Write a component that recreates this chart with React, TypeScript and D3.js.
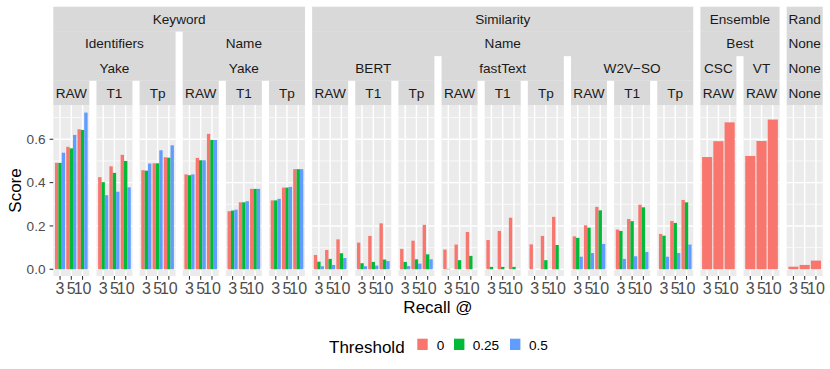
import * as d3 from 'd3';
import React from 'react';

// x categories (Recall @) and fill groups (Threshold)
const recallAt = ['3', '5', '10'];
const thresholds = ['0', '0.25', '0.5'];
const thresholdColors = ['#F8766D', '#00BA38', '#619CFF'];
const yTicks = [0, 0.2, 0.4, 0.6];
const yMinor = [0.1, 0.3, 0.5, 0.7];

// nested facet labels, outer -> inner, one entry per panel
const level1 = ['Keyword', 'Keyword', 'Keyword', 'Keyword', 'Keyword', 'Keyword',
  'Similarity', 'Similarity', 'Similarity', 'Similarity', 'Similarity', 'Similarity',
  'Similarity', 'Similarity', 'Similarity', 'Ensemble', 'Ensemble', 'Rand'];
const level2 = ['Identifiers', 'Identifiers', 'Identifiers', 'Name', 'Name', 'Name',
  'Name', 'Name', 'Name', 'Name', 'Name', 'Name', 'Name', 'Name', 'Name', 'Best', 'Best', 'None'];
const level3 = ['Yake', 'Yake', 'Yake', 'Yake', 'Yake', 'Yake',
  'BERT', 'BERT', 'BERT', 'fastText', 'fastText', 'fastText',
  'W2V\u2212SO', 'W2V\u2212SO', 'W2V\u2212SO', 'CSC', 'VT', 'None'];
const level4 = ['RAW', 'T1', 'Tp', 'RAW', 'T1', 'Tp', 'RAW', 'T1', 'Tp',
  'RAW', 'T1', 'Tp', 'RAW', 'T1', 'Tp', 'RAW', 'RAW', 'None'];

// scores per panel at recall 3, 5, 10
const score0 = [
  [0.491, 0.565, 0.646], [0.425, 0.475, 0.528], [0.457, 0.489, 0.517],
  [0.438, 0.514, 0.625], [0.268, 0.309, 0.371], [0.318, 0.377, 0.462],
  [0.066, 0.089, 0.138], [0.123, 0.154, 0.212], [0.094, 0.132, 0.205],
  [0.091, 0.114, 0.172], [0.135, 0.177, 0.238], [0.115, 0.154, 0.242],
  [0.152, 0.203, 0.288], [0.183, 0.232, 0.298], [0.163, 0.223, 0.32],
  [0.518, 0.591, 0.678], [0.523, 0.592, 0.691], [0.012, 0.02, 0.04],
];
const score025 = [
  [0.491, 0.558, 0.643], [0.402, 0.445, 0.5], [0.455, 0.489, 0.515],
  [0.434, 0.503, 0.597], [0.271, 0.309, 0.371], [0.318, 0.377, 0.462],
  [0.035, 0.048, 0.074], [0.028, 0.034, 0.045], [0.034, 0.046, 0.069],
  [0.002, 0.042, 0.062], [0.011, 0.011, 0.011], [0.0, 0.042, 0.112],
  [0.145, 0.192, 0.272], [0.177, 0.222, 0.286], [0.155, 0.214, 0.309],
  null, null, null,
];
const score05 = [
  [0.538, 0.62, 0.723], [0.342, 0.358, 0.378], [0.488, 0.549, 0.572],
  [0.438, 0.503, 0.597], [0.275, 0.314, 0.371], [0.325, 0.38, 0.462],
  [0.014, 0.02, 0.052], [0.014, 0.017, 0.038], [0.015, 0.026, 0.046],
  [0, 0, 0], [0, 0, 0], [0, 0, 0],
  [0.058, 0.075, 0.117], [0.048, 0.06, 0.08], [0.058, 0.075, 0.114],
  null, null, null,
];

const W = 830, H = 369;
const FONT = '"Liberation Sans", Arial, Helvetica, sans-serif';
const panelW = 36, panelStep = 43.14, panelX0 = 53.3;
const stripTop = 6.7, stripH = 24.58;
const panelTop = stripTop + 4 * stripH;
const panelBottom = 276;

const series = [score0, score025, score05];
const levels = [level1, level2, level3, level4];

// group consecutive panels sharing the same labels up to a given depth
function stripGroups(depth: number) {
  const groups: { label: string; start: number; end: number; key: string }[] = [];
  for (let i = 0; i < level1.length; i++) {
    const key = levels.slice(0, depth + 1).map(l => l[i]).join('|');
    const last = groups[groups.length - 1];
    if (last && last.key === key) last.end = i;
    else groups.push({ label: levels[depth][i], start: i, end: i, key });
  }
  return groups;
}

const App = () => {
  const y = d3.scaleLinear().domain([-0.031, 0.758]).range([panelBottom, panelTop]);
  const x = d3.scaleLinear().domain([0.4, 3.6]).range([0, panelW]);
  const panelX = (i: number) => panelX0 + i * panelStep;
  const fmt = d3.format('.1f');

  const legendItems = [
    { key: 417.3, label: 436.7 },
    { key: 454, label: 472.7 },
    { key: 510, label: 529 },
  ];

  return (
    <svg width={W} height={H} style={{ position: 'absolute', left: 0, top: 0, background: '#fff' }}
      fontFamily={FONT}>
      {/* strips */}
      {levels.map((_, depth) => (
        <g key={'s' + depth}>
          {stripGroups(depth).map(g => {
            const x0 = panelX(g.start), x1 = panelX(g.end) + panelW;
            const yy = stripTop + depth * stripH;
            return (
              <g key={g.start}>
                <rect x={x0} y={yy} width={x1 - x0} height={stripH + 0.3} fill="#D9D9D9" />
                <text x={(x0 + x1) / 2} y={yy + stripH / 2 + 4.8} textAnchor="middle"
                  fontSize={13.6} fill="#1A1A1A">{g.label}</text>
              </g>
            );
          })}
        </g>
      ))}

      {/* panels */}
      {level1.map((_, p) => {
        const px = panelX(p);
        const present = series.map((s, t) => ({ t, vals: s[p] })).filter(d => d.vals);
        const bw = 0.9 / present.length;
        return (
          <g key={'p' + p} transform={`translate(${px},0)`}>
            <rect x={0} y={panelTop} width={panelW} height={panelBottom - panelTop} fill="#EBEBEB" />
            {yMinor.map(v => (
              <line key={'mn' + v} x1={0} x2={panelW} y1={y(v)} y2={y(v)} stroke="#fff" strokeWidth={0.7} />
            ))}
            {yTicks.map(v => (
              <line key={'mj' + v} x1={0} x2={panelW} y1={y(v)} y2={y(v)} stroke="#fff" strokeWidth={1.4} />
            ))}
            {recallAt.map((_, c) => (
              <line key={'v' + c} x1={x(c + 1)} x2={x(c + 1)} y1={panelTop} y2={panelBottom}
                stroke="#fff" strokeWidth={1.4} />
            ))}
            {present.map((d, k) =>
              d.vals!.map((v, c) => {
                const x0 = x(c + 1 - 0.45 + k * bw);
                const x1 = x(c + 1 - 0.45 + (k + 1) * bw);
                return (
                  <rect key={`b${d.t}-${c}`} x={x0} y={y(v)} width={x1 - x0}
                    height={Math.max(0, y(0) - y(v))} fill={thresholdColors[d.t]} />
                );
              })
            )}
            {recallAt.map((lab, c) => (
              <g key={'xt' + c}>
                <line x1={x(c + 1)} x2={x(c + 1)} y1={panelBottom} y2={panelBottom + 3.7}
                  stroke="#333333" strokeWidth={1.07} />
                <text x={x(c + 1)} y={294} textAnchor="middle" fontSize={16} fill="#4D4D4D">{lab}</text>
              </g>
            ))}
          </g>
        );
      })}

      {/* y axis */}
      {yTicks.map(v => (
        <g key={'yt' + v}>
          <line x1={panelX0 - 3.7} x2={panelX0} y1={y(v)} y2={y(v)} stroke="#333333" strokeWidth={1.07} />
          <text x={45.5} y={y(v)} dy="0.35em" textAnchor="end" fontSize={13.6} fill="#4D4D4D">{fmt(v)}</text>
        </g>
      ))}
      <text transform={`translate(20.5,${(panelTop + panelBottom) / 2}) rotate(-90)`} textAnchor="middle"
        fontSize={17} fill="#000">Score</text>
      <text x={(panelX0 + panelX(17) + panelW) / 2} y={313} textAnchor="middle" fontSize={17} fill="#000">
        Recall @
      </text>

      {/* legend */}
      <text x={329} y={353} fontSize={17} fill="#000">Threshold</text>
      {thresholds.map((t, i) => (
        <g key={'lg' + t}>
          <rect x={legendItems[i].key} y={338.7} width={10.4} height={11.3} fill={thresholdColors[i]} />
          <text x={legendItems[i].label} y={350} fontSize={13.6} fill="#000">{t}</text>
        </g>
      ))}
    </svg>
  );
};

export default App;
